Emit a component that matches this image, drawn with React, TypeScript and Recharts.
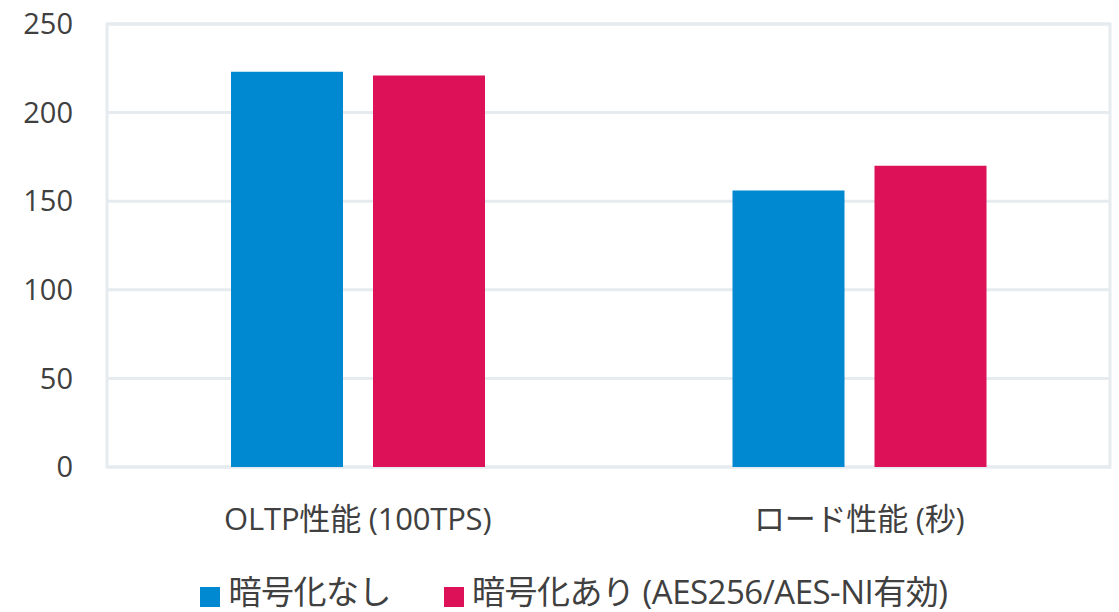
import { BarChart, Bar, XAxis, YAxis, CartesianGrid, Legend, ReferenceArea } from "recharts"

const categories = ["OLTP性能 (100TPS)", "ロード性能 (秒)"]
const plainValues = [223, 156]
const encryptedValues = [221, 170]
const yTicks = [0, 50, 100, 150, 200, 250]

const SERIES = [
  { key: "plain", label: "暗号化なし", color: "#0088d1" },
  { key: "encrypted", label: "暗号化あり (AES256/AES-NI有効)", color: "#dc1157" },
]

const data = categories.map((name, i) => ({
  name,
  plain: plainValues[i],
  encrypted: encryptedValues[i],
}))

const FONT = '"Open Sans", "Noto Sans CJK JP", sans-serif'
const TEXT = "#404040"
const LINE = "#e5ebee"

function ChartLegend() {
  return (
    <div
      style={{
        display: "flex",
        justifyContent: "center",
        alignItems: "center",
        fontFamily: FONT,
        fontSize: 33,
        color: TEXT,
        lineHeight: "40px",
        letterSpacing: -0.5,
        paddingLeft: 38,
      }}
    >
      {SERIES.map((s, i) => (
        <span
          key={s.key}
          style={{ display: "flex", alignItems: "center", marginLeft: i === 0 ? 0 : 53 }}
        >
          <span style={{ width: 20, height: 20, background: s.color, marginRight: 8, marginTop: 10 }} />
          {s.label}
        </span>
      ))}
    </div>
  )
}

export default function App() {
  return (
    <div style={{ position: "absolute", left: 0, top: 0, width: 1119, height: 612, background: "#fff" }}>
      <BarChart
        width={1119}
        height={612}
        data={data}
        margin={{ top: 24, right: 9, bottom: 0, left: 0 }}
        barGap={30}
        barSize={112}
      >
        <CartesianGrid stroke={LINE} strokeWidth={3} vertical={false} />
        <ReferenceArea
          y1={0}
          y2={250}
          fill="none"
          stroke={LINE}
          strokeWidth={3}
          ifOverflow="extendDomain"
        />
        <XAxis
          dataKey="name"
          axisLine={false}
          tickLine={false}
          tickSize={0}
          tickMargin={41}
          height={145 - 40}
          tick={{ fontSize: 31, fill: TEXT, fontFamily: FONT, letterSpacing: -0.2 }}
        />
        <YAxis
          domain={[0, 250]}
          ticks={yTicks}
          axisLine={false}
          tickLine={false}
          tickSize={0}
          tickMargin={34}
          width={107}
          tick={{ fontSize: 29, fill: TEXT, fontFamily: FONT }}
        />
        <Legend verticalAlign="bottom" height={40} content={() => <ChartLegend />} />
        {SERIES.map((s) => (
          <Bar key={s.key} dataKey={s.key} name={s.label} fill={s.color} isAnimationActive={false} />
        ))}
      </BarChart>
    </div>
  )
}
